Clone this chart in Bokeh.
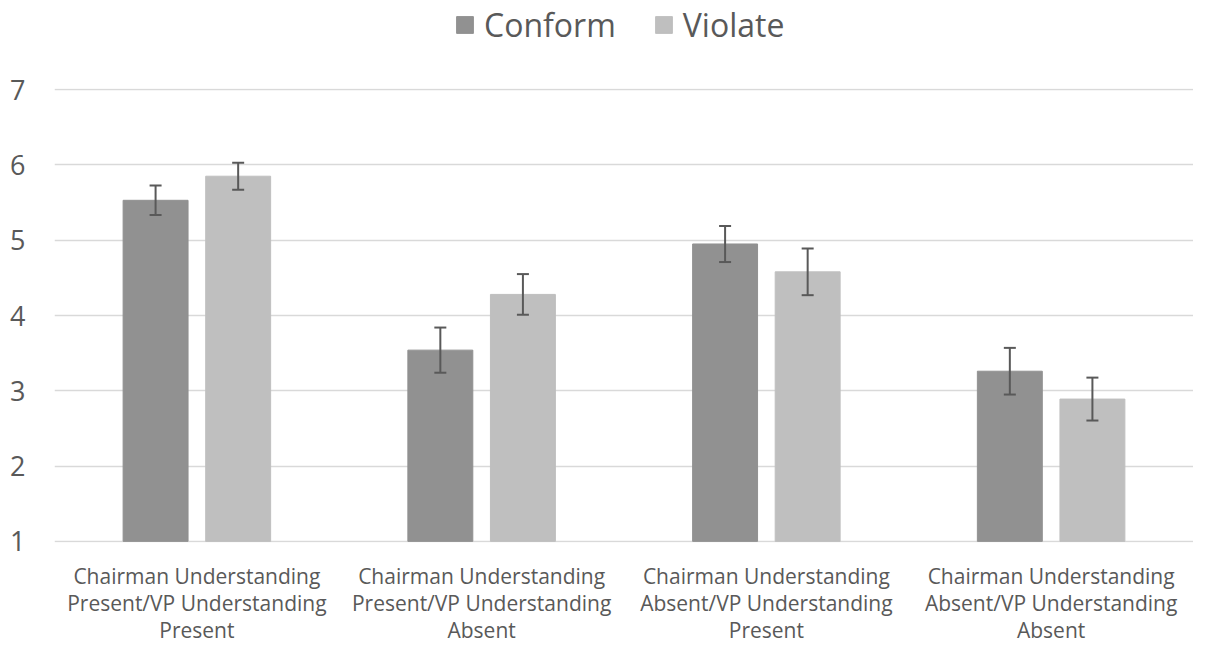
from bokeh.plotting import figure
from bokeh.layouts import column
from bokeh.models import (ColumnDataSource, Range1d, FixedTicker, Legend, LegendItem)
from bokeh.core.properties import value
from bokeh.transform import dodge
from bokeh.embed import file_html
from bokeh.resources import INLINE

categories = [
    "Chairman Understanding\nPresent/VP Understanding\nPresent",
    "Chairman Understanding\nPresent/VP Understanding\nAbsent",
    "Chairman Understanding\nAbsent/VP Understanding\nPresent",
    "Chairman Understanding\nAbsent/VP Understanding\nAbsent",
]
series = ["Conform", "Violate"]
colors = ["#919191", "#bfbfbf"]
conform = [5.53, 3.54, 4.95, 3.26]
conform_err = [0.195, 0.30, 0.24, 0.31]
violate = [5.85, 4.28, 4.58, 2.89]
violate_err = [0.18, 0.27, 0.31, 0.285]
y_ticks = [1, 2, 3, 4, 5, 6, 7]

FONT = "Open Sans"
TXT = "#595959"
ERR = "#595959"
W = 1193

xpos = [i + 0.5 for i in range(len(categories))]
src = ColumnDataSource(dict(
    x=xpos, conform=conform, violate=violate,
    c_lo=[v - e for v, e in zip(conform, conform_err)],
    c_hi=[v + e for v, e in zip(conform, conform_err)],
    v_lo=[v - e for v, e in zip(violate, violate_err)],
    v_hi=[v + e for v, e in zip(violate, violate_err)],
))
x_range = Range1d(0, 4)


def bare(fig):
    fig.outline_line_color = None
    fig.xgrid.grid_line_color = None
    fig.ygrid.grid_line_color = None
    fig.xaxis.visible = False
    fig.yaxis.visible = False


# ---------- legend strip ----------
lf = figure(width=W, height=60, output_backend="svg", toolbar_location=None,
            x_range=Range1d(0, 1), y_range=Range1d(0, 1),
            min_border_left=0, min_border_right=0, min_border_top=0, min_border_bottom=0)
bare(lf)
# proxy renderers (placed outside the visible range) that only carry legend styles
dummies = [lf.vbar(x=[-10], top=[-10], bottom=[-11], width=1, fill_color=c, line_color=c)
           for c in colors]
legend = Legend(items=[LegendItem(label=s, renderers=[r]) for s, r in zip(series, dummies)],
                orientation="horizontal", location=(400, 14),
                label_text_font=FONT, label_text_font_size="32px", label_text_color=TXT,
                glyph_width=21, glyph_height=21, label_standoff=9, spacing=37,
                border_line_color=None, background_fill_alpha=0, padding=0, margin=0)
lf.add_layout(legend)

# ---------- main plot ----------
p = figure(width=W, height=500, output_backend="svg", toolbar_location=None,
           x_range=x_range, y_range=Range1d(0.985, 7.015),
           min_border_left=54, min_border_right=0, min_border_top=28, min_border_bottom=18)
p.outline_line_color = None
p.xgrid.grid_line_color = None
p.ygrid.grid_line_color = "#d9d9d9"
p.ygrid.grid_line_width = 1.5
p.yaxis.ticker = FixedTicker(ticks=y_ticks)
p.xaxis.visible = False
yax = p.yaxis[0]
yax.axis_line_color = None
yax.major_tick_line_color = None
yax.minor_tick_line_color = None
yax.major_tick_in = 0
yax.major_tick_out = 0
yax.major_label_text_font = FONT
yax.major_label_text_color = TXT
yax.major_label_text_font_size = "27px"
yax.major_label_standoff = 29

w = 0.228
off = 0.145
p.vbar(x=dodge("x", -off, range=x_range), top="conform", bottom=1, width=w,
       source=src, fill_color=colors[0], line_color=colors[0])
p.vbar(x=dodge("x", off, range=x_range), top="violate", bottom=1, width=w,
       source=src, fill_color=colors[1], line_color=colors[1])
for xo, lo, hi in ((-off, "c_lo", "c_hi"), (off, "v_lo", "v_hi")):
    xd = dodge("x", xo, range=x_range)
    p.segment(x0=xd, x1=xd, y0=lo, y1=hi, source=src, line_color=ERR, line_width=2)
    p.scatter(x=xd, y=lo, source=src, marker="dash", size=12, line_color=ERR, line_width=2)
    p.scatter(x=xd, y=hi, source=src, marker="dash", size=12, line_color=ERR, line_width=2)

# ---------- category label strip ----------
lab_x, lab_y, lab_t = [], [], []
for x, cat in zip(xpos, categories):
    for k, line in enumerate(cat.split("\n")):
        lab_x.append(x)
        lab_y.append(k)
        lab_t.append(line)
bf = figure(width=W, height=85, output_backend="svg", toolbar_location=None,
            x_range=x_range, y_range=Range1d(2.5455, -0.5455),
            min_border_left=54, min_border_right=0, min_border_top=0, min_border_bottom=0)
bare(bf)
bf.text(x=lab_x, y=lab_y, text=lab_t, text_align="center", text_baseline="middle",
        text_font=value(FONT), text_font_size=value("21px"), text_color=TXT)

layout = column(lf, p, bf, spacing=0)
open("out.html", "w").write(file_html(layout, INLINE))
